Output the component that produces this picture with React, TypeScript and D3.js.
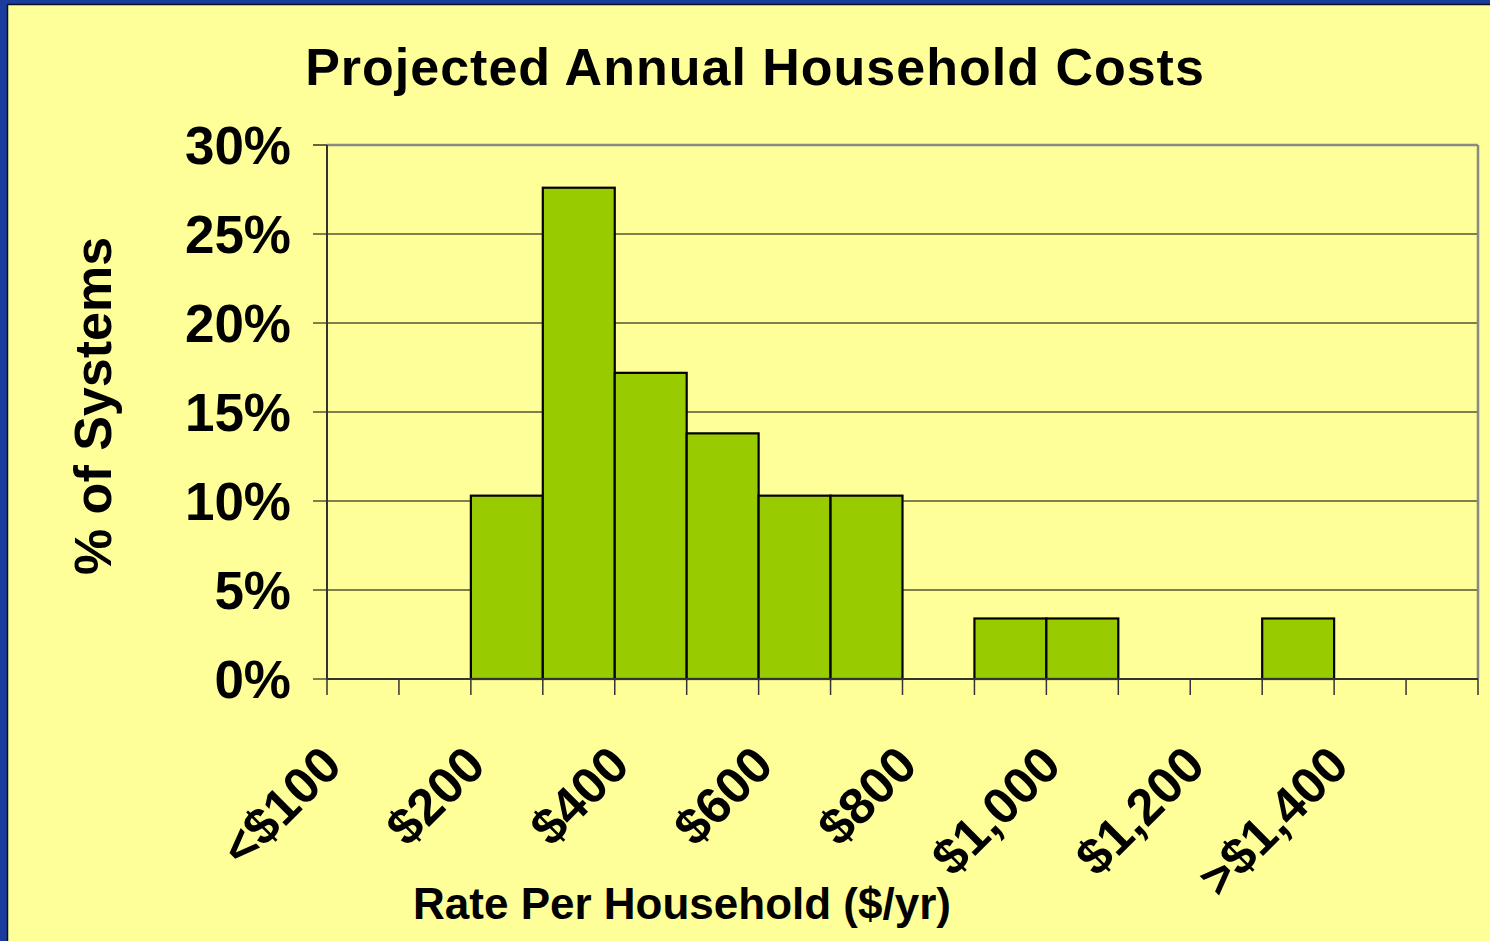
import React from "react";
import * as d3 from "d3";

const title = "Projected Annual Household Costs";
const xTitle = "Rate Per Household ($/yr)";
const yTitle = "% of Systems";
const categories = ["<$100", "$100", "$200", "$300", "$400", "$500", "$600", "$700", "$800", "$900", "$1,000", "$1,100", "$1,200", "$1,300", ">$1,400", ""];
const values = [0, 0, 10.3, 27.6, 17.2, 13.8, 10.3, 10.3, 0, 3.4, 3.4, 0, 0, 3.4, 0, 0];
const yTicks = [0, 5, 10, 15, 20, 25, 30];

const W = 1490;
const H = 941;
const plot = { left: 327, right: 1478, top: 145, bottom: 679 };
const FONT = "'Liberation Sans', Arial, sans-serif";

export default function App() {
  const x = d3.scaleBand<string>().domain(categories.map((c, i) => String(i))).range([plot.left, plot.right]).padding(0);
  const y = d3.scaleLinear().domain([0, 30]).range([plot.bottom, plot.top]);
  const bw = x.bandwidth();
  const boundaries = d3.range(categories.length + 1).map((i) => plot.left + i * bw);

  return (
    <svg width={W} height={H} style={{ position: "fixed", left: 0, top: 0 }} fontFamily={FONT}>
      <rect x={0} y={0} width={W} height={H} fill="#1a3c9c" />
      <rect x={8} y={5} width={W - 8} height={H - 5} fill="#FFFF99" />
      <line x1={7.5} y1={4.5} x2={W} y2={4.5} stroke="#0a1020" strokeWidth={1.5} />
      <line x1={7.5} y1={4.5} x2={7.5} y2={H} stroke="#0a1020" strokeWidth={1.5} />

      <text x={755} y={85} textAnchor="middle" fontSize={52} fontWeight="bold" letterSpacing={1.0} fill="#000">{title}</text>

      {/* gridlines */}
      {yTicks.map((t) => (
        <line key={"g" + t} x1={plot.left - 14} x2={t === 30 ? plot.left : plot.right} y1={y(t)} y2={y(t)} stroke="#000" strokeWidth={1.2} />
      ))}
      {/* plot border top/right */}
      <line x1={plot.left} x2={plot.right} y1={plot.top} y2={plot.top} stroke="#888" strokeWidth={2.5} />
      <line x1={plot.right} x2={plot.right} y1={plot.top} y2={plot.bottom} stroke="#888" strokeWidth={2.5} />

      {/* bars */}
      {values.map((v, i) =>
        v > 0 ? (
          <rect key={"b" + i} x={x(String(i))!} y={y(v)} width={bw} height={y(0) - y(v)} fill="#99CC00" stroke="#000" strokeWidth={2.2} />
        ) : null
      )}

      {/* axes */}
      <line x1={plot.left} x2={plot.left} y1={plot.top} y2={plot.bottom} stroke="#333" strokeWidth={2} />
      <line x1={plot.left} x2={plot.right} y1={plot.bottom} y2={plot.bottom} stroke="#333" strokeWidth={2} />
      {boundaries.map((bx, i) => (
        <line key={"t" + i} x1={bx} x2={bx} y1={plot.bottom} y2={plot.bottom + 16} stroke="#333" strokeWidth={1.5} />
      ))}

      {yTicks.map((t) => (
        <text key={"yl" + t} x={291} y={y(t)} dy="0.36em" textAnchor="end" fontSize={53} fontWeight="bold" fill="#000">{t + "%"}</text>
      ))}

      {categories.map((c, i) =>
        i % 2 === 0 && c ? (
          <text key={"xl" + i} transform={`translate(${x(String(i))! + bw / 2 - 19},768) rotate(-45)`} textAnchor="end" fontSize={51} fontWeight="bold" fill="#000">{c}</text>
        ) : null
      )}

      <text transform={`translate(111,406) rotate(-90)`} textAnchor="middle" fontSize={52} fontWeight="bold" fill="#000">{yTitle}</text>
      <text x={682} y={919} textAnchor="middle" fontSize={44} fontWeight="bold" fill="#000">{xTitle}</text>
    </svg>
  );
}
